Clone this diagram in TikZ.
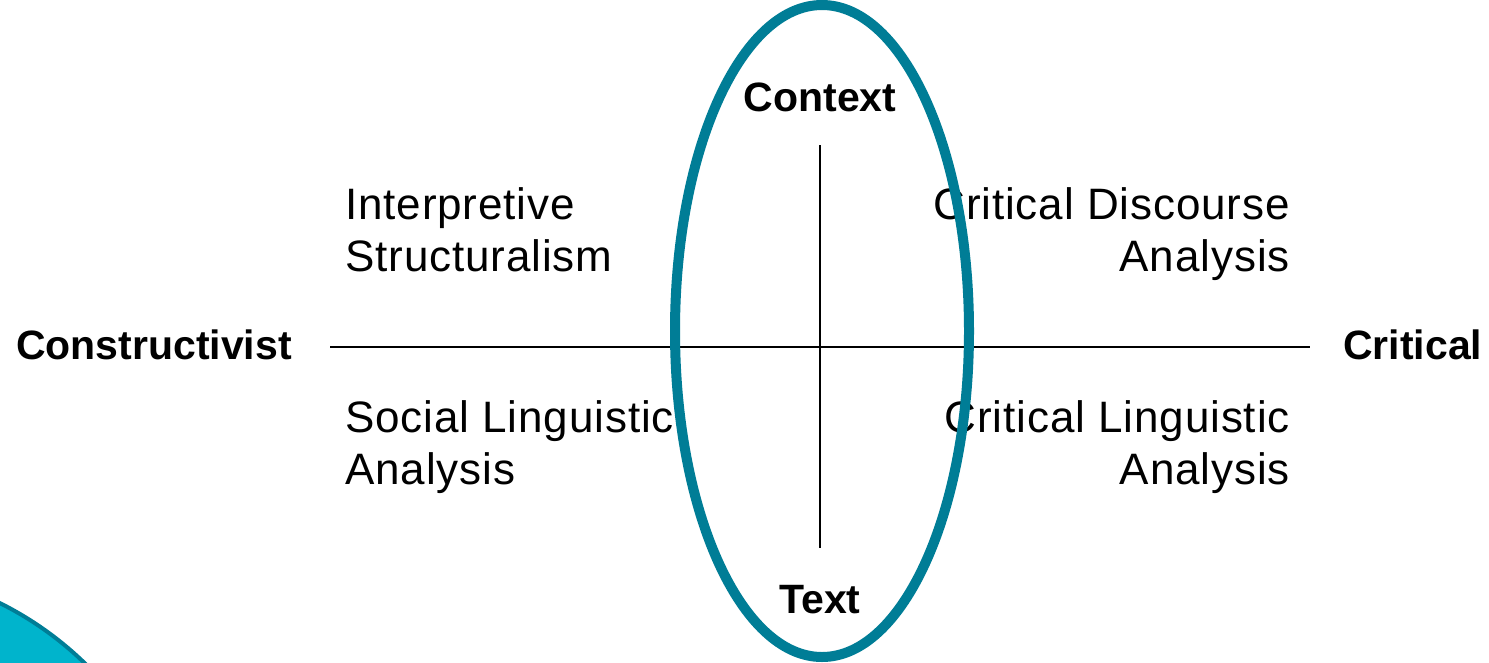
\documentclass[tikz,border=0pt]{standalone}
\usepackage{fontspec}
\setmainfont{Liberation Sans}
\newfontfamily\quadfont[LetterSpace=2]{Liberation Sans}
\definecolor{teal1}{HTML}{007D96}
\definecolor{cyan1}{HTML}{00B4CC}
\begin{document}
\begin{tikzpicture}[x=1pt,y=-1pt,
  axislab/.style={font=\fontsize{41}{48}\selectfont\bfseries, inner sep=0pt},
  quadL/.style={font=\quadfont\fontsize{44}{52}\selectfont, align=left, inner sep=0pt, anchor=north west},
  quadR/.style={font=\quadfont\fontsize{44}{52}\selectfont, align=right, inner sep=0pt, anchor=north east},
  axisline/.style={line width=2.4pt, black}]
\useasboundingbox (0,0) rectangle (1489,662);
\fill[white] (0,0) rectangle (1489,662);
% corner decoration
\begin{scope}
\clip (0,0) rectangle (1489,662);
\filldraw[fill=cyan1, draw=teal1, line width=4pt] (-150,905) circle (337);
\end{scope}
% axes
\coordinate (L) at (330,347);
\coordinate (R) at (1310,347);
\coordinate (T) at (820,145);
\coordinate (B) at (820,548);
\draw[axisline] (L) -- (R);
\draw[axisline] (T) -- (B);
% labels
\node[axislab, anchor=east] (cons) at (292,345) {Constructivist};
\node[axislab, anchor=west] (crit) at (1343,345) {Critical};
\node[axislab] (ctx) at (820,97) {Context};
\node[axislab] (txt) at (820,600) {Text};
\node[quadL] (is) at (345,187) {Interpretive\\Structuralism};
\node[quadR] (cda) at (1290,187) {Critical Discourse\\Analysis};
\node[quadL] (sla) at (345,400) {Social Linguistic\\Analysis};
\node[quadR] (cla) at (1290,400) {Critical Linguistic\\Analysis};
% ellipse
\draw[teal1, line width=10pt] (822,331) ellipse (147 and 326);
\end{tikzpicture}
\end{document}
